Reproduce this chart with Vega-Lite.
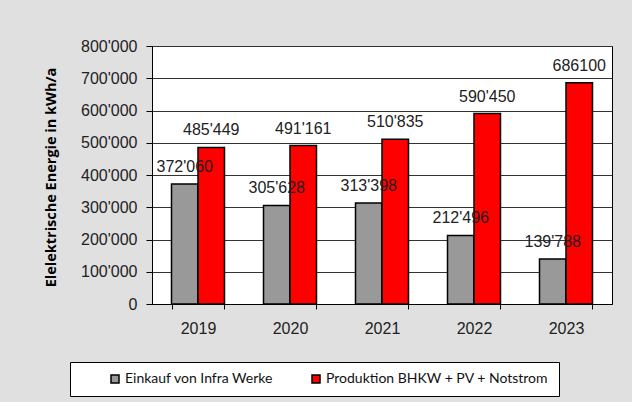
{
  "$schema": "https://vega.github.io/schema/vega-lite/v6.json",
  "width": 460,
  "height": 258,
  "autosize": {"type": "none"},
  "padding": {"left": 152, "top": 46, "right": 20, "bottom": 98},
  "background": "#e0e0e0",
  "config": {
    "view": {"fill": "white", "stroke": "black", "strokeWidth": 1}
  },
  "data": {
    "values": [
      {"year": "2019", "series": "Einkauf von Infra Werke", "value": 372060, "label": "372'060"},
      {"year": "2020", "series": "Einkauf von Infra Werke", "value": 305628, "label": "305'628"},
      {"year": "2021", "series": "Einkauf von Infra Werke", "value": 313398, "label": "313'398"},
      {"year": "2022", "series": "Einkauf von Infra Werke", "value": 212496, "label": "212'496"},
      {"year": "2023", "series": "Einkauf von Infra Werke", "value": 139788, "label": "139'788"},
      {"year": "2019", "series": "Produktion BHKW + PV + Notstrom", "value": 485449, "label": "485'449"},
      {"year": "2020", "series": "Produktion BHKW + PV + Notstrom", "value": 491161, "label": "491'161"},
      {"year": "2021", "series": "Produktion BHKW + PV + Notstrom", "value": 510835, "label": "510'835"},
      {"year": "2022", "series": "Produktion BHKW + PV + Notstrom", "value": 590450, "label": "590'450"},
      {"year": "2023", "series": "Produktion BHKW + PV + Notstrom", "value": 686100, "label": "686100"}
    ]
  },
  "encoding": {
    "x": {
      "field": "year",
      "type": "nominal",
      "scale": {"paddingInner": 0.424, "paddingOuter": 0.212},
      "axis": {
        "title": null,
        "labelAngle": 0,
        "labelFont": "Liberation Sans",
        "labelFontSize": 16,
        "labelColor": "#222222",
        "labelPadding": 11,
        "tickSize": 5,
        "tickColor": "black",
        "tickBand": "extent",
        "domainColor": "black",
        "grid": false
      }
    },
    "xOffset": {
      "field": "series",
      "type": "nominal",
      "scale": {"paddingInner": 0, "paddingOuter": 0}
    },
    "y": {
      "field": "value",
      "type": "quantitative",
      "scale": {"domain": [0, 800000], "nice": false},
      "axis": {
        "title": "Elelektrische Energie in kWh/a",
        "titleFont": "Open Sans",
        "titleFontWeight": "bold",
        "titleFontSize": 14.5,
        "titleColor": "black",
        "titleX": -101,
        "titleY": 131,
        "titleBaseline": "middle",
        "values": [0, 100000, 200000, 300000, 400000, 500000, 600000, 700000, 800000],
        "labelExpr": "replace(format(datum.value, ','), regexp(',', 'g'), \"'\")",
        "labelFont": "Liberation Sans",
        "labelFontSize": 16,
        "labelColor": "#222222",
        "labelPadding": 9,
        "tickSize": 6,
        "tickColor": "black",
        "domainColor": "black",
        "grid": true,
        "gridColor": "#333333",
        "gridWidth": 1
      }
    }
  },
  "layer": [
    {
      "mark": {"type": "bar", "stroke": "black", "strokeWidth": 1.5},
      "encoding": {
        "fill": {
          "field": "series",
          "type": "nominal",
          "scale": {
            "domain": ["Einkauf von Infra Werke", "Produktion BHKW + PV + Notstrom"],
            "range": ["#999999", "#ff0000"]
          },
          "legend": {
            "title": null,
            "orient": "none",
            "legendX": -82,
            "legendY": 316,
            "direction": "horizontal",
            "columns": 2,
            "columnPadding": 7,
            "padding": 10,
            "fillColor": "white",
            "strokeColor": "black",
            "symbolType": "square",
            "symbolSize": 64,
            "symbolStrokeColor": "black",
            "symbolStrokeWidth": 1.5,
            "symbolOffset": 28,
            "labelFont": "Lato",
            "labelFontSize": 14,
            "labelColor": "#111111",
            "labelOffset": 3,
            "labelLimit": 400
          }
        }
      }
    },
    {
      "mark": {
        "type": "text",
        "dy": -12,
        "baseline": "alphabetic",
        "font": "Liberation Sans",
        "fontSize": 16,
        "color": "#222222"
      },
      "encoding": {"text": {"field": "label"}}
    }
  ]
}
